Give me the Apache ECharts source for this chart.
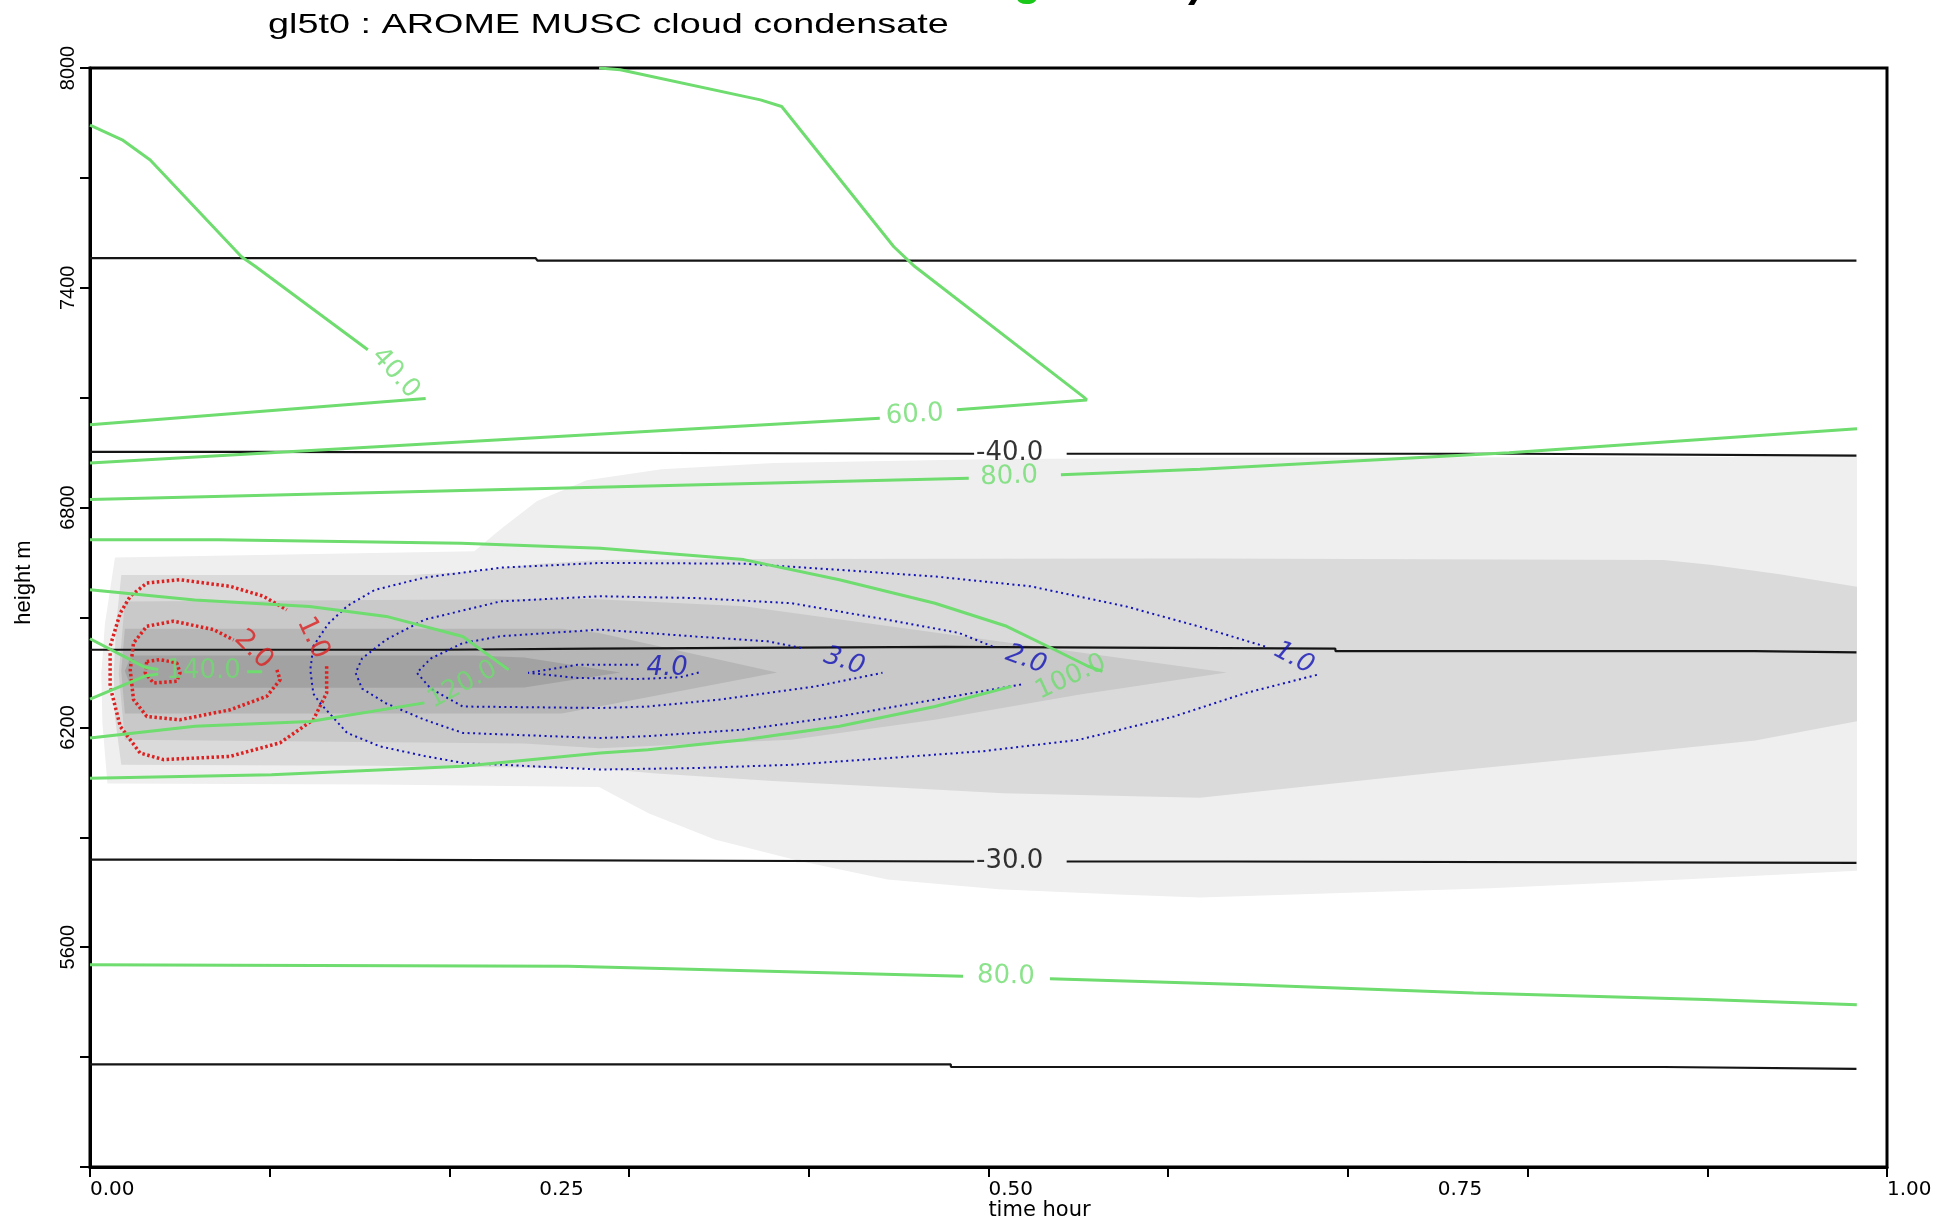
<!DOCTYPE html>
<html>
<head>
<meta charset="utf-8">
<title>gl5t0 : AROME MUSC cloud condensate</title>
<script src="https://cdn.jsdelivr.net/npm/echarts@6.0.0/dist/echarts.min.js"></script>
<style>
  html, body { margin: 0; padding: 0; background: #fff; }
  #chart { width: 1957px; height: 1223px; }
</style>
</head>
<body>
<div id="chart"></div>
<script>
// ---- axes: time (hour) and height (m) ----
const timeTicks = [0, 0.1, 0.2, 0.3, 0.4, 0.5, 0.6, 0.7, 0.8, 0.9, 1.0];
const timeLabels = [0, 0.25, 0.5, 0.75, 1.0];
const heightTicks = [5000, 5300, 5600, 5900, 6200, 6500, 6800, 7100, 7400, 7700, 8000];
const heightLabels = [5600, 6200, 6800, 7400, 8000];

// ---- cloud condensate shading, outlines as [time, height], lightest band first ----
const condensateBand1 = [[0.0139,6664],[0.2139,6681],[0.2278,6738],[0.2486,6817],[0.2764,6875],[0.3181,6905],[0.3806,6922],[0.5056,6933],[0.6444,6936],[0.9833,6939],[0.9833,5809],[0.8861,5785],[0.7792,5761],[0.6177,5736],[0.5722,5744],[0.5056,5758],[0.4438,5785],[0.3944,5836],[0.3477,5894],[0.3111,5965],[0.2963,6003],[0.2833,6037],[0.1583,6044],[0.0097,6047],[0.0069,6211],[0.0063,6347],[0.0083,6483]];
const condensateBand2 = [[0.0174,6616],[0.1792,6616],[0.2139,6626],[0.2486,6646],[0.2833,6657],[0.3667,6660],[0.6177,6661],[0.8757,6657],[0.9028,6643],[0.9403,6618],[0.9833,6584],[0.9833,6217],[0.9267,6164],[0.8597,6130],[0.7521,6078],[0.6177,6008],[0.5083,6020],[0.4438,6037],[0.3799,6054],[0.3153,6074],[0.2833,6088],[0.1583,6095],[0.0174,6098],[0.0139,6228],[0.0132,6347],[0.0146,6483]];
const condensateBand3 = [[0.0194,6544],[0.2764,6551],[0.3639,6531],[0.4701,6459],[0.55,6405],[0.6326,6350],[0.55,6289],[0.4701,6221],[0.3903,6166],[0.2833,6143],[0.2417,6156],[0.0194,6166],[0.016,6347]];
const condensateBand4 = [[0.0194,6469],[0.2625,6469],[0.2833,6458],[0.3824,6350],[0.2833,6257],[0.2625,6238],[0.0194,6238],[0.0174,6354]];
const condensateBand5 = [[0.0229,6396],[0.2139,6396],[0.2417,6391],[0.2951,6350],[0.2417,6309],[0.2139,6308],[0.0229,6308],[0.0194,6354]];
const bandColors = ['#efefef', '#dadada', '#c9c9c9', '#b6b6b6', '#a2a2a2'];

// ---- temperature isolines (degC), broken where labelled ----
const tempM45 = [[0,7481],[0.248,7481],[0.249,7474],[0.983,7474]];
const tempM40a = [[0,6952],[0.0972,6952],[0.0973,6947],[0.492,6947]];
const tempM40b = [[0.5435,6947],[0.794,6947],[0.7941,6942],[0.983,6942]];
const tempM35 = [[0,6412],[0.1965,6412],[0.1966,6415],[0.2799,6415],[0.28,6420],[0.4757,6420],[0.4758,6415],[0.693,6415],[0.6931,6408],[0.926,6408],[0.9261,6405],[0.983,6405]];
const tempM30a = [[0,5839],[0.126,5839],[0.1261,5834],[0.492,5834]];
const tempM30b = [[0.5435,5834],[0.6335,5834],[0.6336,5830],[0.983,5830]];
const tempM25 = [[0,5280],[0.479,5280],[0.4791,5273],[0.876,5273],[0.8761,5268],[0.983,5268]];

// ---- relative humidity isolines (%) ----
const rh40a = [[0,7844],[0.0179,7804],[0.0335,7749],[0.0843,7485],[0.0921,7458],[0.1546,7231]];
const rh40b = [[0.1868,7098],[0,7026]];
const rh60a = [[0.2833,8000],[0.2951,7995],[0.3731,7913],[0.3849,7895],[0.4473,7512],[0.459,7458],[0.5527,7103],[0.5547,7094],[0.4824,7067]];
const rh60b = [[0.4395,7044],[0,6922]];
const rh80a = [[0,6822],[0.489,6880]];
const rh80b = [[0.5403,6890],[0.6177,6905],[0.7896,6950],[0.9833,7015]];
const rh80c = [[0,5552],[0.0788,5551],[0.2662,5548],[0.3178,5542],[0.4858,5521]];
const rh80d = [[0.5342,5514],[0.6408,5498],[0.77,5475],[0.8992,5457],[0.9832,5443]];
const rh100a = [[0,6712],[0.0715,6712],[0.2065,6703],[0.2839,6689],[0.3638,6658],[0.417,6603],[0.4702,6539],[0.5101,6476],[0.5368,6412],[0.5554,6367],[0.5634,6353]];
const rh100b = [[0.5128,6312],[0.4702,6257],[0.417,6203],[0.3638,6166],[0.3105,6139],[0.2839,6130],[0.2074,6094],[0.101,6071],[0,6061]];
const rh120a = [[0,6576],[0.0583,6548],[0.1222,6530],[0.1649,6503],[0.2074,6448],[0.233,6357]];
const rh120b = [[0.1861,6267],[0.1222,6216],[0.0583,6203],[0,6171]];
const rh140a = [[0,6442],[0.0306,6364],[0.038,6358]];
const rh140b = [[0,6277],[0.0306,6340],[0.038,6346]];
const rh140c = [[0.0875,6352],[0.0958,6352]];

// ---- ice condensate isolines (blue, dotted) ----
const ice10 = [[0.6539,6421],[0.6167,6476],[0.5767,6530],[0.5235,6585],[0.4702,6612],[0.417,6630],[0.3638,6647],[0.2839,6649],[0.2285,6636],[0.1861,6609],[0.1583,6575],[0.1431,6531],[0.1326,6483],[0.1243,6422],[0.1226,6357],[0.1243,6292],[0.1281,6266],[0.1431,6185],[0.1615,6148],[0.1861,6122],[0.2074,6103],[0.2839,6085],[0.3372,6089],[0.3903,6098],[0.4436,6116],[0.4968,6135],[0.5501,6166],[0.6033,6230],[0.6433,6294],[0.6832,6344]];
const ice20 = [[0.5022,6421],[0.4835,6458],[0.4436,6494],[0.3903,6539],[0.3372,6553],[0.2839,6558],[0.2285,6544],[0.1861,6494],[0.1646,6439],[0.1514,6388],[0.1478,6349],[0.1514,6306],[0.1646,6266],[0.1861,6221],[0.2074,6185],[0.2839,6171],[0.3105,6176],[0.3638,6194],[0.417,6230],[0.4702,6276],[0.5181,6317]];
const ice30 = [[0.3957,6417],[0.3771,6435],[0.3372,6448],[0.2839,6467],[0.2285,6449],[0.2074,6430],[0.1896,6388],[0.1819,6349],[0.1896,6306],[0.2074,6257],[0.2839,6253],[0.3105,6257],[0.3504,6276],[0.4037,6312],[0.441,6349]];
const ice40 = [[0.3052,6371],[0.2713,6371],[0.2438,6349],[0.2713,6335],[0.3052,6332],[0.3285,6337],[0.3389,6350]];

// ---- liquid condensate isolines (red, dotted) ----
const liq10 = [[0.1317,6367],[0.1317,6294],[0.1243,6221],[0.1058,6158],[0.078,6121],[0.0409,6112],[0.0279,6130],[0.0168,6203],[0.0112,6312],[0.0112,6421],[0.0168,6512],[0.0224,6558],[0.0316,6594],[0.0501,6603],[0.078,6585],[0.0965,6558],[0.1095,6521]];
const liq20 = [[0.104,6357],[0.1058,6330],[0.0984,6285],[0.078,6248],[0.0501,6221],[0.0316,6230],[0.0242,6276],[0.0224,6357],[0.0242,6430],[0.0316,6476],[0.0465,6490],[0.0687,6467],[0.0799,6439]];
const liq30 = [[0.0316,6380],[0.039,6385],[0.0483,6376],[0.0501,6349],[0.0483,6326],[0.0353,6321],[0.0307,6349],[0.0316,6380]];

// ---- isoline labels: [text, time, height] ----
const tempLabels = [['-40.0',0.5118,6949],['-30.0',0.5118,5835]];
const rhLabels = [['40.0',0.170,7167],['60.0',0.459,7053],['80.0',0.5115,6885],['80.0',0.5097,5521],['140.0',0.0632,6352],['100.0',0.5458,6337],['120.0',0.2074,6316]];
const iceLabels = [['4.0',0.3212,6362],['3.0',0.4197,6380],['2.0',0.5208,6385],['1.0',0.6699,6389]];
const liqLabels = [['2.0',0.091,6412],['1.0',0.124,6444]];

const rhAngles = [-48, 3, 2, -2, 0, 25, 28];
const iceAngles = [0, -18, -20, -28];
const liqAngles = [-45, -65];

const GREEN = '#6edc6e', BLUE = '#1212b8', RED = '#dd2020', BLACK = '#151515';

function isoline(data, color, width, type, z) {
  return {
    type: 'line', data: data, symbol: 'none', smooth: false, silent: true,
    animation: false, clip: true, z: z,
    lineStyle: { color: color, width: width, type: type }
  };
}

function labelLayer(list, angles, color, size, fontStyle) {
  return {
    type: 'scatter', symbolSize: 0, silent: true, animation: false, z: 20,
    data: list.map((l, i) => ({ name: l[0], value: [l[1], l[2]], label: { rotate: angles[i] } })),
    label: {
      show: true, position: 'inside', formatter: p => p.name,
      color: color, fontSize: size, fontFamily: 'DejaVu Sans', fontStyle: fontStyle || 'normal'
    }
  };
}

const bands = [condensateBand1, condensateBand2, condensateBand3, condensateBand4, condensateBand5];

const series = [
  {
    type: 'custom', silent: true, animation: false, z: 1,
    data: bands.map((b, i) => [b[0][0], b[0][1], i]),
    encode: { x: 0, y: 1 },
    renderItem: function (params, api) {
      const idx = api.value(2);
      return {
        type: 'polygon',
        shape: { points: bands[idx].map(p => api.coord(p)) },
        style: { fill: bandColors[idx], stroke: null }
      };
    }
  }
];

[tempM45, tempM40a, tempM40b, tempM35, tempM30a, tempM30b, tempM25]
  .forEach(d => series.push(isoline(d, BLACK, 2.2, 'solid', 3)));
[ice10, ice20, ice30, ice40]
  .forEach(d => series.push(isoline(d, BLUE, 2, [2, 3.5], 4)));
[liq10, liq20, liq30]
  .forEach(d => series.push(isoline(d, RED, 3.5, [2.5, 2.5], 5)));
[rh40a, rh40b, rh60a, rh60b, rh80a, rh80b, rh80c, rh80d, rh100a, rh100b, rh120a, rh120b, rh140a, rh140b, rh140c]
  .forEach(d => series.push(isoline(d, GREEN, 3, 'solid', 6)));

series.push(labelLayer(tempLabels, [0, 0], '#000', 26));
series.push(labelLayer(rhLabels, rhAngles, GREEN, 26));
series.push(labelLayer(iceLabels, iceAngles, BLUE, 26, 'italic'));
series.push(labelLayer(liqLabels, liqAngles, RED, 27));

const chart = echarts.init(document.getElementById('chart'), null, { renderer: 'canvas' });
chart.setOption({
  animation: false,
  backgroundColor: '#fff',
  grid: {
    left: 90, right: 70, top: 68, bottom: 56, containLabel: false, outerBoundsMode: 'none',
    show: true, borderColor: '#000', borderWidth: 3, backgroundColor: 'transparent'
  },
  graphic: [
    {
      type: 'text', x: 268, y: 25, scaleX: 1.35, silent: true,
      style: { text: 'gl5t0 : AROME MUSC cloud condensate', font: '28px "Liberation Sans"', fill: '#000',
               align: 'left', verticalAlign: 'middle', textAlign: 'left', textVerticalAlign: 'middle' }
    },
    {
      type: 'text', x: 1014, y: -39, silent: true,
      style: { text: 'g', font: 'bold 44px "Liberation Sans"', fill: '#19c819', verticalAlign: 'top', textVerticalAlign: 'top' }
    },
    {
      type: 'text', x: 1188, y: -38, silent: true,
      style: { text: ')', font: 'bold 44px "Liberation Sans"', fill: '#000', verticalAlign: 'top', textVerticalAlign: 'top' }
    }
  ],
  xAxis: {
    type: 'value', min: 0, max: 1,
    axisLine: { show: true, onZero: false, lineStyle: { color: '#000', width: 3 } },
    axisTick: { show: true, customValues: timeTicks, length: 10, lineStyle: { color: '#000', width: 2 } },
    axisLabel: { customValues: timeLabels, formatter: v => Number(v).toFixed(2), align: 'left', margin: 13,
                 fontFamily: 'DejaVu Sans', fontSize: 20, color: '#000' },
    splitLine: { show: false },
    name: 'time hour', nameLocation: 'middle', nameGap: 33, nameMoveOverlap: false,
    nameTextStyle: { fontFamily: 'DejaVu Sans', fontSize: 21, color: '#000', padding: [0, 0, 0, 102] }
  },
  yAxis: {
    type: 'value', min: 5000, max: 8000,
    axisLine: { show: true, onZero: false, lineStyle: { color: '#000', width: 3 } },
    axisTick: { show: true, customValues: heightTicks, length: 10, lineStyle: { color: '#000', width: 2 } },
    axisLabel: { customValues: heightLabels, formatter: v => String(v), rotate: 90, margin: 12,
                 fontFamily: 'Liberation Sans', fontSize: 20, color: '#000' },
    splitLine: { show: false },
    name: 'height m', nameLocation: 'middle', nameGap: 55, nameMoveOverlap: false,
    nameTextStyle: { fontFamily: 'Liberation Sans', fontSize: 22, color: '#000', padding: [0, 0, 0, 70] }
  },
  series: series
});
</script>
</body>
</html>
